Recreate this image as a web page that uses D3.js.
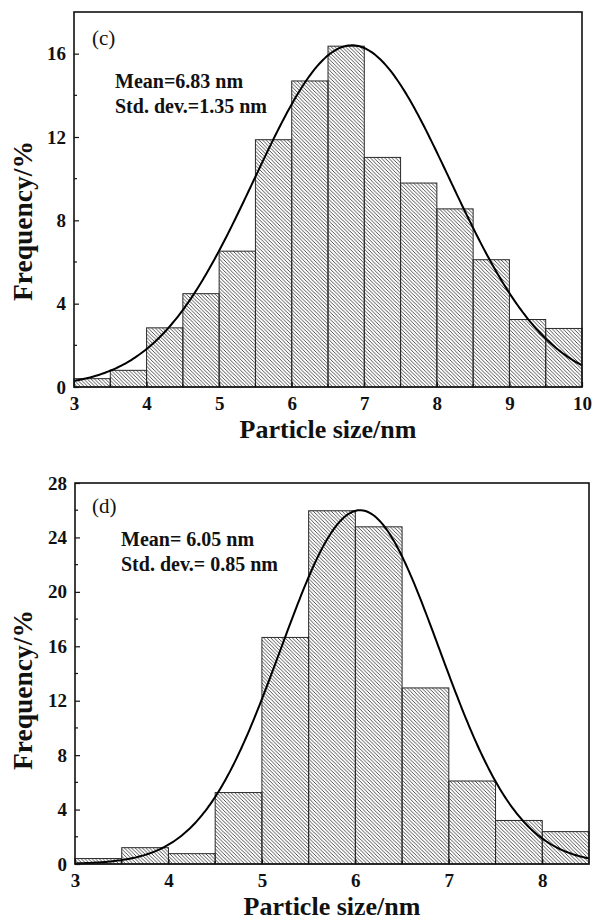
<!DOCTYPE html>
<html>
<head>
<meta charset="utf-8">
<script src="https://cdn.jsdelivr.net/npm/d3@7"></script>
<style>
  html, body { margin: 0; padding: 0; background: #fff; }
  svg { display: block; }
  text { font-family: "Liberation Serif", "Times New Roman", serif; fill: #111; }
</style>
</head>
<body>
<svg id="chart" width="592" height="922"></svg>
<script>
// ---- Data ----
const binWidth = 0.5;

// Panel (c)
const binStartsC = [3.0, 3.5, 4.0, 4.5, 5.0, 5.5, 6.0, 6.5, 7.0, 7.5, 8.0, 8.5, 9.0, 9.5];
const freqC      = [0.4, 0.8, 2.84, 4.48, 6.52, 11.87, 14.69, 16.36, 11.02, 9.79, 8.55, 6.11, 3.24, 2.81];
const xTicksC    = [3, 4, 5, 6, 7, 8, 9, 10];
const yTicksC    = [0, 4, 8, 12, 16];
const fitC       = { mean: 6.83, sd: 1.35, peak: 16.4 };
const textC      = ["Mean=6.83 nm", "Std. dev.=1.35 nm"];

// Panel (d)
const binStartsD = [3.0, 3.5, 4.0, 4.5, 5.0, 5.5, 6.0, 6.5, 7.0, 7.5, 8.0];
const freqD      = [0.4, 1.2, 0.76, 5.25, 16.65, 25.96, 24.78, 12.94, 6.1, 3.2, 2.38];
const xTicksD    = [3, 4, 5, 6, 7, 8];
const yTicksD    = [0, 4, 8, 12, 16, 20, 24, 28];
const fitD       = { mean: 6.05, sd: 0.85, peak: 26.0 };
const textD      = ["Mean= 6.05 nm", "Std. dev.= 0.85 nm"];

const xLabel = "Particle size/nm";
const yLabel = "Frequency/%";

// ---- Drawing ----
const svg = d3.select("#chart");
const defs = svg.append("defs");
const pat = defs.append("pattern")
  .attr("id", "hatch")
  .attr("patternUnits", "userSpaceOnUse")
  .attr("width", 3.6).attr("height", 3.6);
pat.append("path")
  .attr("d", "M-1,-1 L4.6,4.6 M-1,2.6 L1,4.6 M2.6,-1 L4.6,1")
  .attr("stroke", "#333").attr("stroke-width", 0.85).attr("fill", "none");

function drawPanel(cfg) {
  const { left, right, top, bottom, xDomain, yDomain, starts, freqs,
          xTicks, yTicks, fit, tag, tagPos, lines, linesPos } = cfg;
  const x = d3.scaleLinear().domain(xDomain).range([left, right]);
  const y = d3.scaleLinear().domain(yDomain).range([bottom, top]);
  const g = svg.append("g");

  // bars
  g.selectAll("rect.bar")
    .data(starts.map((s, i) => ({ s, v: freqs[i] })))
    .join("rect")
    .attr("class", "bar")
    .attr("x", d => x(d.s))
    .attr("y", d => y(d.v))
    .attr("width", d => x(d.s + binWidth) - x(d.s))
    .attr("height", d => y(0) - y(d.v))
    .attr("fill", "url(#hatch)")
    .attr("stroke", "#2a2a2a")
    .attr("stroke-width", 1);

  // Gaussian fit curve (from the stated mean and std. dev.)
  const xs = d3.range(xDomain[0], xDomain[1] + 1e-9, (xDomain[1] - xDomain[0]) / 300);
  const line = d3.line()
    .x(d => x(d))
    .y(d => y(fit.peak * Math.exp(-Math.pow(d - fit.mean, 2) / (2 * fit.sd * fit.sd))));
  g.append("path")
    .datum(xs)
    .attr("d", line)
    .attr("fill", "none")
    .attr("stroke", "#000")
    .attr("stroke-width", 2);

  // minor ticks
  const yMinor = d3.range(yDomain[0] + 2, yDomain[1], 4).filter(v => !yTicks.includes(v));
  const xMinor = d3.range(xDomain[0] + 0.5, xDomain[1], 1);

  // y axis (inward ticks)
  const yAxis = d3.axisLeft(y).tickValues(yTicks).tickSize(-5).tickPadding(8)
    .tickFormat(d3.format("d"));
  const ya = g.append("g").attr("transform", `translate(${left},0)`).call(yAxis);
  ya.select(".domain").remove();
  ya.selectAll("text").attr("font-size", 19).attr("font-weight", "bold")
    .attr("font-family", "Liberation Serif, serif");
  ya.selectAll("line").attr("stroke", "#111").attr("stroke-width", 1.2);
  g.append("g").selectAll("line").data(yMinor).join("line")
    .attr("x1", left).attr("x2", left + 3)
    .attr("y1", d => y(d)).attr("y2", d => y(d))
    .attr("stroke", "#111").attr("stroke-width", 1.2);

  // x axis (inward ticks)
  const xAxis = d3.axisBottom(x).tickValues(xTicks).tickSize(-5).tickPadding(10)
    .tickFormat(d3.format("d"));
  const xa = g.append("g").attr("transform", `translate(0,${bottom})`).call(xAxis);
  xa.select(".domain").remove();
  xa.selectAll("text").attr("font-size", 19).attr("font-weight", "bold")
    .attr("font-family", "Liberation Serif, serif");
  xa.selectAll("line").attr("stroke", "#111").attr("stroke-width", 1.2);
  g.append("g").selectAll("line").data(xMinor).join("line")
    .attr("x1", d => x(d)).attr("x2", d => x(d))
    .attr("y1", bottom).attr("y2", bottom - 3)
    .attr("stroke", "#111").attr("stroke-width", 1.2);

  // frame
  g.append("rect")
    .attr("x", left).attr("y", top)
    .attr("width", right - left).attr("height", bottom - top)
    .attr("fill", "none").attr("stroke", "#111").attr("stroke-width", 1.6);

  // panel tag
  g.append("text").attr("x", tagPos[0]).attr("y", tagPos[1])
    .attr("font-size", 21).text(tag);

  // statistics text
  lines.forEach((t, i) => {
    g.append("text").attr("x", linesPos[0]).attr("y", linesPos[1] + i * 24.7)
      .attr("font-size", 20).attr("font-weight", "bold").text(t);
  });

  // axis titles
  g.append("text")
    .attr("x", (left + right) / 2).attr("y", bottom + 51)
    .attr("text-anchor", "middle").attr("font-size", 26).attr("font-weight", "bold")
    .text(xLabel);
  g.append("text")
    .attr("transform", `translate(32,${cfg.yLabelCenter}) rotate(-90)`)
    .attr("text-anchor", "middle").attr("font-size", 27.5).attr("font-weight", "bold")
    .text(yLabel);
}

drawPanel({
  left: 74, right: 582, top: 12, bottom: 387,
  xDomain: [3, 10], yDomain: [0, 18],
  starts: binStartsC, freqs: freqC, xTicks: xTicksC, yTicks: yTicksC,
  fit: fitC, tag: "(c)", tagPos: [92, 45], lines: textC, linesPos: [115, 88],
  yLabelCenter: 221
});

drawPanel({
  left: 75, right: 589, top: 483, bottom: 864,
  xDomain: [3, 8.5], yDomain: [0, 28],
  starts: binStartsD, freqs: freqD, xTicks: xTicksD, yTicks: yTicksD,
  fit: fitD, tag: "(d)", tagPos: [92, 513], lines: textD, linesPos: [121, 546],
  yLabelCenter: 690
});
</script>
</body>
</html>
